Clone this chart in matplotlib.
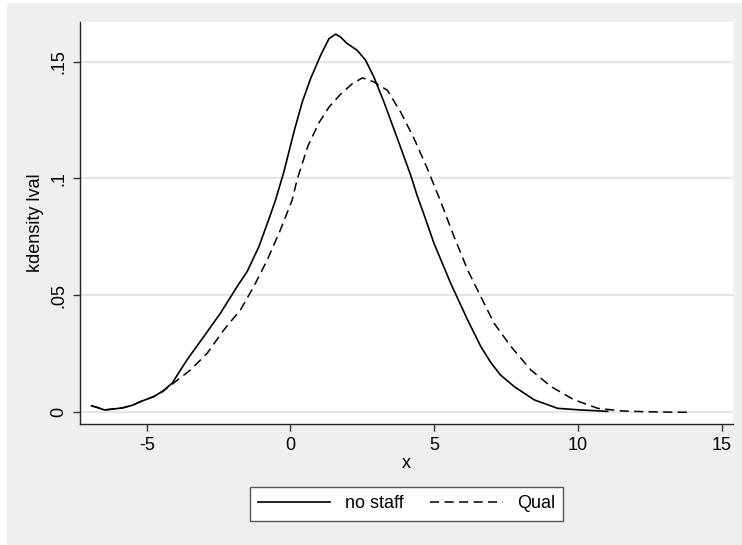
import matplotlib.pyplot as plt
from matplotlib.patches import Rectangle

plt.rcParams['font.family'] = ['Liberation Sans', 'DejaVu Sans']
plt.rcParams['axes.unicode_minus'] = False

# kernel density estimates
x_nostaff = [-6.92, -6.75, -6.47, -6.10, -5.84, -5.50, -5.23, -4.76, -4.45, -4.12,
             -3.60, -3.02, -2.44, -1.86, -1.51, -1.10, -0.76, -0.52, -0.23, 0.12,
             0.41, 0.70, 1.05, 1.34, 1.57, 1.74, 1.97, 2.32, 2.61, 2.90,
             3.25, 3.72, 4.18, 4.41, 4.65, 4.99, 5.57, 6.16, 6.62, 6.97,
             7.30, 7.78, 8.48, 9.29, 10.10, 10.60, 11.03]
y_nostaff = [0.0028, 0.0022, 0.0010, 0.0015, 0.0019, 0.0030, 0.0045, 0.0067, 0.0090, 0.0124,
             0.0224, 0.0323, 0.0423, 0.0537, 0.0601, 0.0708, 0.0823, 0.0908, 0.1028, 0.1199,
             0.1327, 0.1427, 0.1527, 0.1598, 0.1617, 0.1605, 0.1577, 0.1548, 0.1506, 0.1434,
             0.1327, 0.1170, 0.1014, 0.0925, 0.0843, 0.0723, 0.0552, 0.0395, 0.0281, 0.0212,
             0.0160, 0.0110, 0.0053, 0.0017, 0.0010, 0.0007, 0.0004]

x_qual = [-6.92, -6.75, -6.47, -6.10, -5.84, -5.50, -5.23, -4.76, -4.45, -4.12,
          -3.48, -2.90, -2.32, -1.74, -1.28, -0.81, -0.35, 0.06, 0.23, 0.61,
          1.00, 1.34, 1.74, 2.15, 2.50, 2.90, 3.37, 3.83, 4.30, 4.76,
          5.23, 5.69, 6.16, 6.62, 7.08, 7.67, 8.36, 9.06, 9.87, 10.69,
          11.50, 12.20, 13.00, 13.94]
y_qual = [0.0028, 0.0022, 0.0010, 0.0015, 0.0019, 0.0030, 0.0045, 0.0067, 0.0088, 0.0120,
          0.0181, 0.0252, 0.0352, 0.0438, 0.0537, 0.0651, 0.0780, 0.0908, 0.0995, 0.1140,
          0.1240, 0.1305, 0.1360, 0.1405, 0.1430, 0.1413, 0.1377, 0.1284, 0.1170, 0.1042,
          0.0899, 0.0751, 0.0609, 0.0494, 0.0381, 0.0281, 0.0181, 0.0110, 0.0053, 0.0017,
          0.0006, 0.0003, 0.0001, 0.0000]

xticks = [-5, 0, 5, 10, 15]
yticks = [0, 0.05, 0.1, 0.15]
ytick_labels = ['0', '.05', '.1', '.15']

W, H = 742, 545
fig = plt.figure(figsize=(W / 100, H / 100), dpi=100)
fig.patch.set_facecolor('white')
# grey graph region with a thin white margin at top/left
fig.patches.append(Rectangle((7 / W, 0), 1, 1 - 3 / H, transform=fig.transFigure,
                             facecolor='#efefef', edgecolor='none', zorder=-10))

ax = fig.add_axes([80 / W, 1 - 424 / H, (733 - 80) / W, (424 - 22) / H])
ax.set_facecolor('white')

ax.plot(x_nostaff, y_nostaff, color='black', lw=1.2, label='no staff')
ax.plot(x_qual, y_qual, color='black', lw=1.1, dashes=(6, 3.5), label='Qual')

ax.set_xlim(-7.32, 15.39)
ax.set_ylim(-0.005, 0.1669)
ax.set_xticks(xticks)
ax.set_yticks(yticks)
ax.set_yticklabels(ytick_labels, rotation=90, va='center')
ax.grid(axis='y', color='#e6e6e6', lw=1.6)
ax.set_axisbelow(True)

for s in ['top', 'right']:
    ax.spines[s].set_visible(False)
for s in ['left', 'bottom']:
    ax.spines[s].set_color('#222222')
    ax.spines[s].set_linewidth(1.0)
ax.tick_params(direction='out', length=5, width=1, color='#333333',
               labelsize=13, pad=4)

ax.set_xlabel('x', fontsize=13, labelpad=1)
ax.set_ylabel('kdensity lval', fontsize=13, labelpad=5)

leg = ax.legend(loc='upper center', bbox_to_anchor=(0.5, -0.135), ncol=2,
                frameon=True, fancybox=False, framealpha=1, edgecolor='#555555',
                fontsize=13, handlelength=4.0, handletextpad=0.8,
                columnspacing=1.5, borderpad=0.45)
leg.get_frame().set_linewidth(1.0)

fig.savefig('out.png', dpi=100, facecolor=fig.get_facecolor())
